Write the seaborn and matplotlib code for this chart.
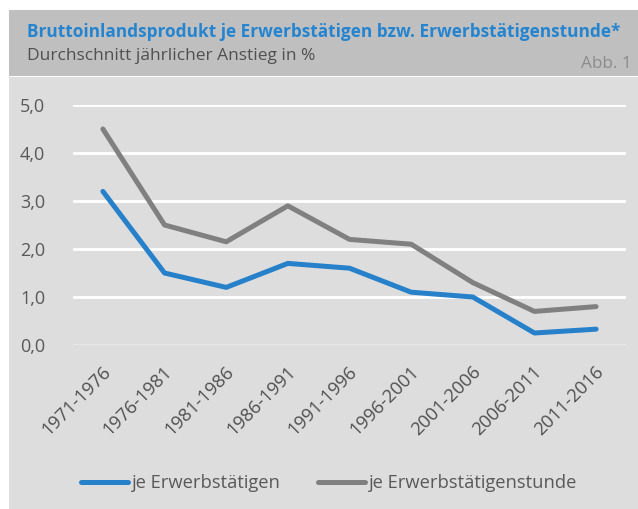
import matplotlib
matplotlib.use("Agg")
import matplotlib.pyplot as plt
import matplotlib.transforms as mtransforms
import seaborn as sns
import pandas as pd
from matplotlib.patches import Rectangle
from matplotlib.lines import Line2D

periods = ["1971-1976", "1976-1981", "1981-1986", "1986-1991", "1991-1996",
           "1996-2001", "2001-2006", "2006-2011", "2011-2016"]
je_erwerbstaetigen = [3.2, 1.5, 1.2, 1.7, 1.6, 1.1, 1.0, 0.25, 0.33]
je_stunde = [4.5, 2.5, 2.15, 2.9, 2.2, 2.1, 1.3, 0.7, 0.8]
series_names = ["je Erwerbstätigen", "je Erwerbstätigenstunde"]
yticks = [0, 1, 2, 3, 4, 5]
ytick_labels = ["0,0", "1,0", "2,0", "3,0", "4,0", "5,0"]
title = "Bruttoinlandsprodukt je Erwerbstätigen bzw. Erwerbstätigenstunde*"
subtitle = "Durchschnitt jährlicher Anstieg in %"
abb = "Abb. 1"

df = pd.DataFrame({
    "Zeitraum": periods * 2,
    "idx": list(range(len(periods))) * 2,
    "Wert": je_erwerbstaetigen + je_stunde,
    "Reihe": [series_names[0]] * len(periods) + [series_names[1]] * len(periods),
})

sns.set_theme(style="white")
plt.rcParams["font.family"] = ["Open Sans", "DejaVu Sans"]

W, H = 638, 509
fig = plt.figure(figsize=(W / 100, H / 100), dpi=100)
fig.patch.set_facecolor("white")

def fx(px):
    return px / W

def fy(py):
    return 1 - py / H

# panel backgrounds
fig.add_artist(Rectangle((fx(9), 0), 1 - fx(9), fy(77),
                         transform=fig.transFigure, facecolor="#DDDDDD", edgecolor="none", zorder=0))
fig.add_artist(Rectangle((fx(9), fy(76)), 1 - fx(9), fy(10) - fy(76),
                         transform=fig.transFigure, facecolor="#BFBFBF", edgecolor="none", zorder=0))

fig.text(fx(27), fy(37), title, color="#2584CF", fontsize=12.4, fontweight="bold",
         va="baseline", ha="left")
fig.text(fx(27), fy(60), subtitle, color="#505050", fontsize=12.5, va="baseline", ha="left")
fig.text(fx(632), fy(68), abb, color="#8C8C8C", fontsize=12.3, va="baseline", ha="right")

ax = fig.add_axes([fx(73), fy(345), fx(626) - fx(73), fy(105) - fy(345)])
ax.patch.set_alpha(0)

sns.lineplot(data=df, x="idx", y="Wert", hue="Reihe", hue_order=series_names,
             palette=["#2680CA", "#808080"], linewidth=3.6, ax=ax, legend=False,
             solid_capstyle="round", solid_joinstyle="round", zorder=3)

ax.set_xlim(-0.485, len(periods) - 0.515)
ax.set_ylim(0, 5)
ax.set_yticks(yticks)
ax.set_yticklabels(ytick_labels)
ax.set_xticks(range(len(periods)))
ax.set_xticklabels(periods, rotation=45, ha="right", va="center", rotation_mode="anchor")
ax.tick_params(axis="y", labelsize=13, length=0, pad=20)
ax.tick_params(axis="x", labelsize=13.2, length=0, pad=17)
for lbl in ax.get_yticklabels():
    lbl.set_color("#595959")
offset = mtransforms.ScaledTranslation(5 / 100, 0, fig.dpi_scale_trans)
for lbl in ax.get_xticklabels():
    lbl.set_color("#505050")
    lbl.set_transform(lbl.get_transform() + offset)
ax.grid(axis="y", color="white", linewidth=2.0, zorder=1)
ax.grid(axis="x", visible=False)
for s in ax.spines.values():
    s.set_visible(False)
ax.set_xlabel("")
ax.set_ylabel("")
ax.set_axisbelow(True)
ax.axhline(0, color="#E3E3E3", linewidth=1.2, zorder=1)

handles = [Line2D([], [], color="#2680CA", linewidth=3.6, solid_capstyle="round"),
           Line2D([], [], color="#808080", linewidth=3.6, solid_capstyle="round")]
fig.legend(handles, series_names, loc="center", bbox_to_anchor=(fx(329), fy(483)),
           ncol=2, frameon=False, fontsize=13.2, handlelength=2.6, handletextpad=0.2,
           columnspacing=2.0, labelcolor="#595959", borderpad=0, borderaxespad=0)

fig.savefig("out.png", dpi=100, facecolor="white")
